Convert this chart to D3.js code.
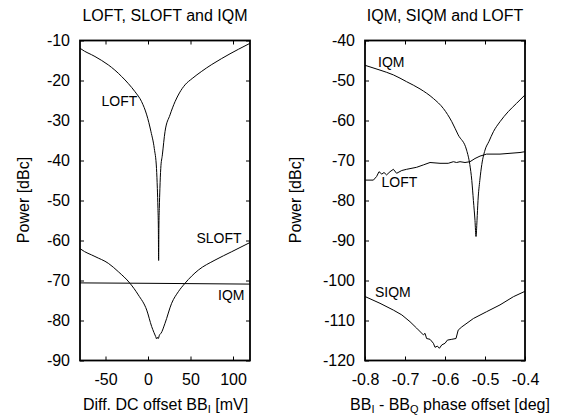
<!DOCTYPE html>
<html><head><meta charset="utf-8">
<script src="https://cdn.jsdelivr.net/npm/d3@7"></script>
<style>
body{margin:0;background:#fff;}
text{font-family:"Liberation Sans",Arial,Helvetica,sans-serif;fill:#000;}
</style></head>
<body><svg id="c" width="564" height="415"></svg>
<script>
// ---- Left panel data: Diff. DC offset BB_I [mV] vs Power [dBc]
const leftXTicks = [-50, 0, 50, 100];
const leftYTicks = [-90, -80, -70, -60, -50, -40, -30, -20, -10];
const leftLOFT = [[-80,-11.9],[-78.8,-12.1],[-62.4,-14.0],[-46.7,-16.1],[-39,-17.4],[-31,-19.0],[-23,-20.8],[-15.3,-22.8],[-7.5,-25.3],[-1.5,-28.6],[3.5,-32.8],[7.4,-37],[10,-42],[11,-47],[11.7,-52],[12.2,-57],[12.5,-65],[12.8,-57],[13.3,-52],[14,-47],[15,-42],[16.9,-38.6],[20,-32.8],[25.9,-28.6],[31.8,-25.3],[37,-23.1],[43.5,-21.1],[52,-19.5],[63.2,-17.7],[75,-16.0],[86.7,-14.5],[106.3,-12.2],[120,-10.7]];
const leftSLOFT = [[-80,-62.0],[-78.8,-62.2],[-62.4,-64.0],[-46.7,-65.7],[-34.9,-67.8],[-21.2,-70.7],[-11.4,-73.6],[-1.5,-77.4],[4.3,-81.5],[7,-83],[9.0,-84.0],[10.2,-84.6],[11,-84.2],[12.1,-84.5],[13.5,-83.6],[15.3,-83.2],[20,-80.7],[27.8,-75.7],[35.7,-72.8],[43.5,-70.7],[59.2,-67.4],[78.8,-64.9],[98.5,-62.8],[120,-60.5]];
const leftIQM = [[-80,-70.6],[0,-70.7],[60,-70.8],[120,-70.9]];

// ---- Right panel data: BB_I - BB_Q phase offset [deg] vs Power [dBc]
const rightXTicks = [-0.8, -0.7, -0.6, -0.5, -0.4];
const rightYTicks = [-120, -110, -100, -90, -80, -70, -60, -50, -40];
const rightIQM = [[-0.8,-46.2],[-0.7625,-47.4],[-0.729,-48.6],[-0.696,-50.3],[-0.6625,-52.1],[-0.629,-54.5],[-0.604,-57.0],[-0.583,-60.3],[-0.567,-63.6],[-0.546,-67.4],[-0.538,-71],[-0.533,-75],[-0.529,-80],[-0.525,-85],[-0.5225,-89],[-0.52,-85],[-0.5175,-80],[-0.513,-75],[-0.508,-71],[-0.5,-67.4],[-0.49,-65.2],[-0.479,-62.8],[-0.4625,-60.3],[-0.442,-57.8],[-0.421,-55.7],[-0.4,-53.6]];
const rightLOFT = [[-0.8,-74.9],[-0.779,-74.9],[-0.771,-74.0],[-0.765,-72.8],[-0.758,-73.4],[-0.7525,-73.0],[-0.746,-73.6],[-0.7375,-72.8],[-0.729,-72.2],[-0.721,-73.2],[-0.708,-72.5],[-0.696,-72.2],[-0.671,-71.7],[-0.654,-71.1],[-0.6375,-70.5],[-0.6125,-70.7],[-0.592,-70.7],[-0.579,-70.3],[-0.571,-70.5],[-0.5625,-70.3],[-0.55,-70.5],[-0.5375,-70.3],[-0.525,-69.5],[-0.5125,-68.9],[-0.496,-68.4],[-0.4625,-68.4],[-0.4375,-68.2],[-0.4125,-68.0],[-0.4,-67.8]];
const rightSIQM = [[-0.8,-104.0],[-0.7625,-105.7],[-0.729,-107.4],[-0.708,-108.6],[-0.6875,-110.3],[-0.671,-111.9],[-0.654,-113.6],[-0.65,-113.2],[-0.646,-114.5],[-0.6375,-114.7],[-0.629,-115.7],[-0.625,-116.7],[-0.619,-116.4],[-0.614,-116.95],[-0.608,-116.1],[-0.6,-115.7],[-0.594,-114.9],[-0.583,-114.7],[-0.5725,-114.5],[-0.567,-112.4],[-0.558,-111.6],[-0.529,-109.5],[-0.496,-107.8],[-0.4625,-106.1],[-0.429,-104.05],[-0.4,-102.7]];

const svg = d3.select("#c");

function panel(opt){
  const g = svg.append("g");
  const x = d3.scaleLinear().domain(opt.xDomain).range([opt.x0, opt.x1]);
  const y = d3.scaleLinear().domain(opt.yDomain).range([opt.y1, opt.y0]);
  const clipId = "clip" + opt.id;
  svg.append("clipPath").attr("id", clipId).append("rect")
    .attr("x", opt.x0).attr("y", opt.y0).attr("width", opt.x1 - opt.x0).attr("height", opt.y1 - opt.y0);

  const fmt = opt.xFmt;
  g.append("g").attr("transform", `translate(${opt.x0},0)`)
    .call(d3.axisLeft(y).tickValues(opt.yTicks).tickSizeInner(-4).tickSizeOuter(0).tickPadding(10).tickFormat(d => String(d)))
    .call(s => s.select(".domain").remove());
  g.append("g").attr("transform", `translate(${opt.x1},0)`)
    .call(d3.axisRight(y).tickValues(opt.yTicks).tickSizeInner(-4).tickSizeOuter(0).tickFormat(""))
    .call(s => s.select(".domain").remove());
  g.append("g").attr("transform", `translate(0,${opt.y1})`)
    .call(d3.axisBottom(x).tickValues(opt.xTicks).tickSizeInner(-4).tickSizeOuter(0).tickPadding(13).tickFormat(fmt))
    .call(s => s.select(".domain").remove());
  g.append("g").attr("transform", `translate(0,${opt.y0})`)
    .call(d3.axisTop(x).tickValues(opt.xTicks).tickSizeInner(-4).tickSizeOuter(0).tickFormat(""))
    .call(s => s.select(".domain").remove());
  g.selectAll(".tick line").attr("stroke", "#000").attr("stroke-width", 1);
  g.selectAll(".tick text").attr("font-size", 16).attr("font-family", '"Liberation Sans",Arial,sans-serif').attr("fill", "#000");

  opt.series.forEach(s => {
    const line = d3.line().x(d => x(d[0])).y(d => y(d[1])).curve(s[1] ? d3.curveMonotoneX : d3.curveLinear);
    g.append("path").datum(s[0]).attr("d", line).attr("fill", "none")
      .attr("stroke", "#000").attr("stroke-width", 1).attr("clip-path", `url(#${clipId})`);
  });

  g.append("rect").attr("x", opt.x0).attr("y", opt.y0)
    .attr("width", opt.x1 - opt.x0).attr("height", opt.y1 - opt.y0)
    .attr("fill", "none").attr("stroke", "#000").attr("stroke-width", 1.8);

  opt.labels.forEach(l => {
    g.append("text").attr("x", l[1]).attr("y", l[2]).attr("font-size", 14).text(l[0]);
  });

  g.append("text").attr("x", (opt.x0 + opt.x1) / 2).attr("y", 20.5)
    .attr("text-anchor", "middle").attr("font-size", 16).text(opt.title);

  g.append("text").attr("transform", `translate(${opt.ylabX},200) rotate(-90)`)
    .attr("text-anchor", "middle").attr("font-size", 16).text("Power [dBc]");

  const xl = g.append("text").attr("x", opt.xlabX).attr("y", 409.5)
    .attr("text-anchor", "middle").attr("font-size", 16);
  opt.xlab.forEach(p => {
    if (p[1]) xl.append("tspan").attr("font-size", 11).attr("dy", 3).text(p[0]);
    else xl.append("tspan").attr("dy", p[2] || 0).text(p[0]);
  });
}

panel({
  id: "L", x0: 80, x1: 250, y0: 40.5, y1: 360.5,
  xDomain: [-80, 120], yDomain: [-90, -10],
  xTicks: leftXTicks, yTicks: leftYTicks, xFmt: d => String(d),
  series: [[leftLOFT, true], [leftSLOFT, true], [leftIQM, false]],
  labels: [["LOFT", 101.5, 105.5], ["SLOFT", 196.5, 242.5], ["IQM", 218, 300]],
  title: "LOFT, SLOFT and IQM", ylabX: 29,
  xlabX: 165.5,
  xlab: [["Diff. DC offset BB", false], ["I", true], [" [mV]", false, -3]]
});

panel({
  id: "R", x0: 365, x1: 525, y0: 40.5, y1: 360.5,
  xDomain: [-0.8, -0.4], yDomain: [-120, -40],
  xTicks: rightXTicks, yTicks: rightYTicks, xFmt: d => d.toFixed(1),
  series: [[rightIQM, true], [rightLOFT, false], [rightSIQM, false]],
  labels: [["IQM", 378, 66.5], ["LOFT", 381.5, 187], ["SIQM", 375, 296.5]],
  title: "IQM, SIQM and LOFT", ylabX: 301,
  xlabX: 450,
  xlab: [["BB", false], ["I", true], [" - BB", false, -3], ["Q", true], [" phase offset [deg]", false, -3]]
});
</script></body></html>
